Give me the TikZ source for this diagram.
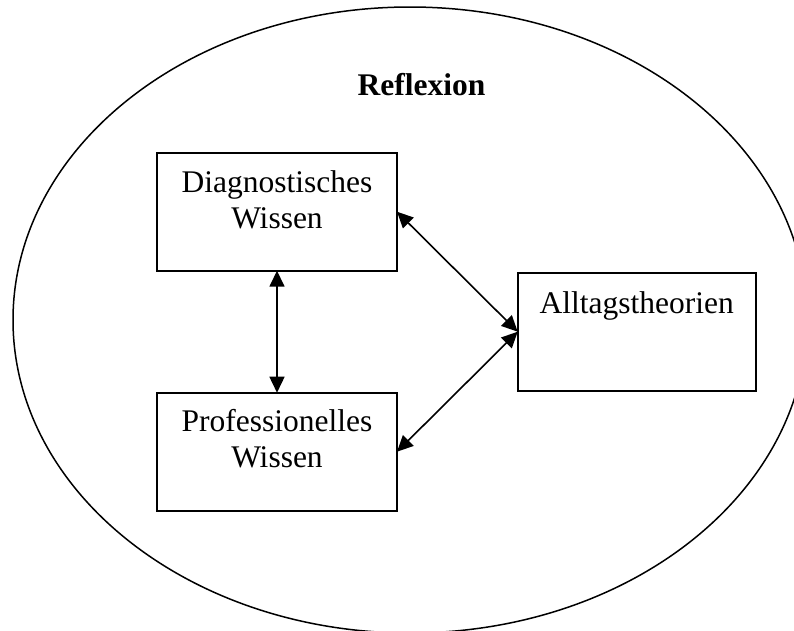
\documentclass[tikz,border=0pt]{standalone}
\usepackage{fontspec}
\setmainfont{Liberation Serif}
\usetikzlibrary{arrows.meta,shapes.geometric}
\begin{document}
\begin{tikzpicture}[x=1pt,y=-1pt,
  every node/.style={inner sep=0pt,outer sep=0pt},
  box/.style={draw,line width=1.8pt,rectangle,minimum width=240pt,minimum height=118pt,anchor=north west},
  txt/.style={font=\fontsize{31.5}{36}\selectfont,text width=240pt,align=center,anchor=base},
  link/.style={line width=1.6pt,{Triangle[length=16pt,width=15pt]}-{Triangle[length=16pt,width=15pt]}}]
  \useasboundingbox (0,0) rectangle (794,630);
  % outer ellipse
  \node[draw,line width=1.5pt,ellipse,minimum width=794pt,minimum height=626pt] (refl) at (410,320) {};
  \node[font=\fontsize{31.5}{36}\selectfont\bfseries,anchor=base] (title) at (421.5,95) {Reflexion};
  % boxes
  \node[box] (diag) at (157,152.7) {};
  \node[box] (prof) at (157,392.7) {};
  \node[box,minimum width=238pt] (allt) at (517.7,272.7) {};
  % box texts
  \node[txt] (diagt) at (277,192) {Diagnostisches\\Wissen};
  \node[txt] (proft) at (277,431.7) {Professionelles\\Wissen};
  \node[txt] (alltt) at (636.7,313) {Alltagstheorien};
  % connectors
  \draw[link] (diag.south) -- (prof.north);
  \draw[link] (diag.east) -- (allt.west);
  \draw[link] (allt.west) -- (prof.east);
\end{tikzpicture}
\end{document}
